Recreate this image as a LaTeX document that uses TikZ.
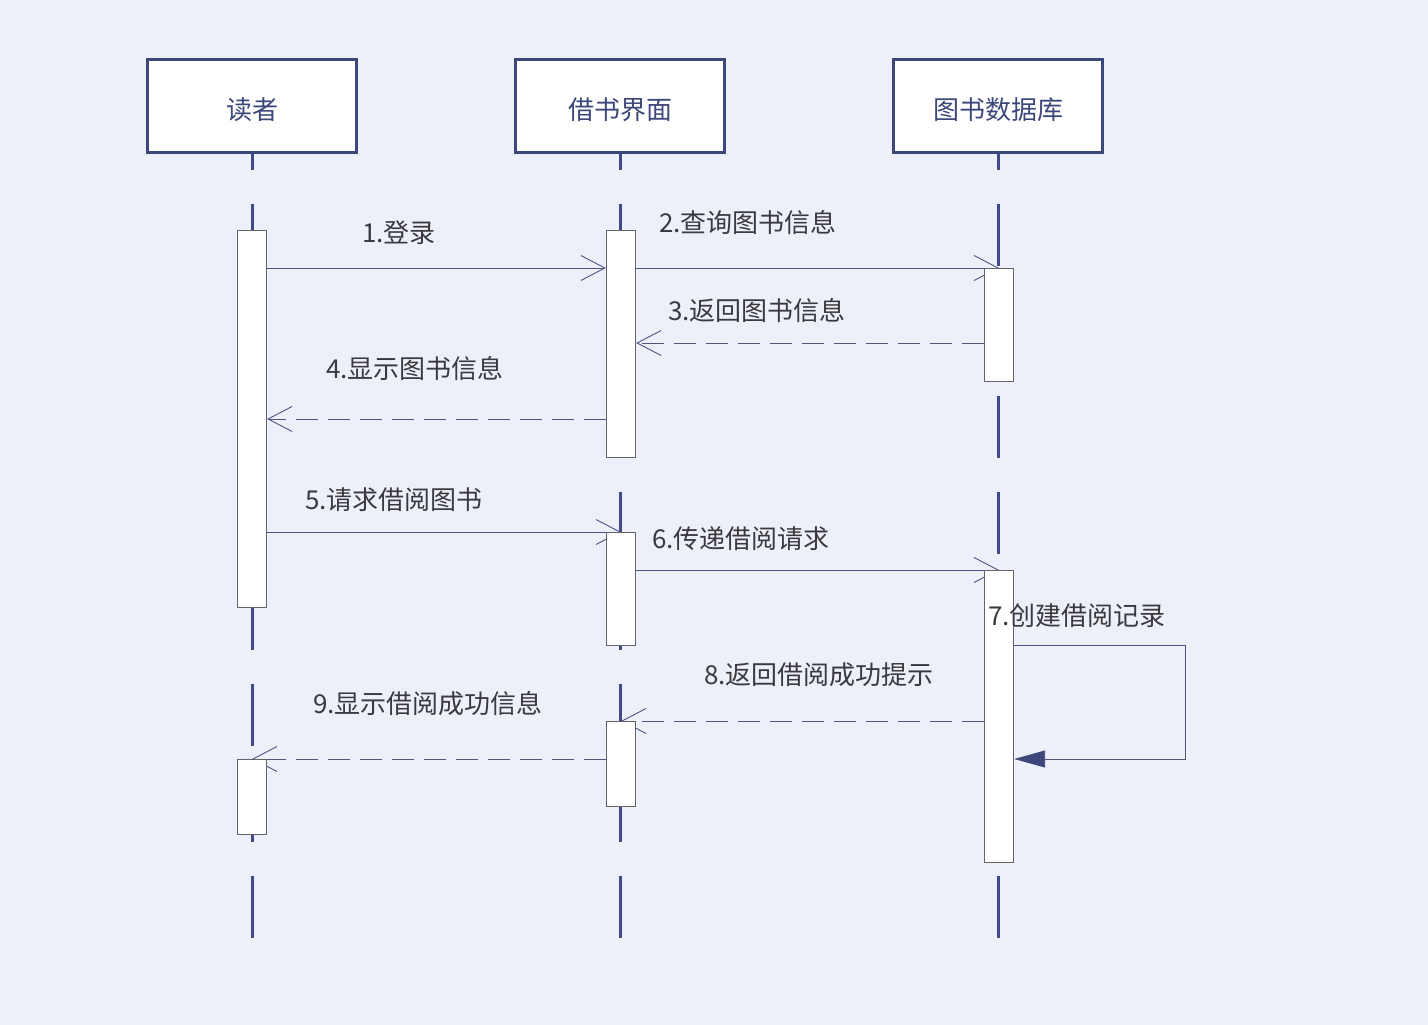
\documentclass[tikz,border=0pt]{standalone}
\usepackage{fontspec}
\setmainfont{Noto Sans CJK SC}
\usetikzlibrary{arrows.meta,backgrounds}
\definecolor{bg}{RGB}{238,240,249}
\definecolor{lifec}{RGB}{64,74,138}
\definecolor{hdrc}{RGB}{60,72,122}
\definecolor{msgc}{RGB}{78,84,128}
\definecolor{txtc}{RGB}{58,58,62}
\definecolor{actc}{RGB}{100,100,104}
\begin{document}
\begin{tikzpicture}[x=1pt,y=-1pt,
  header/.style={draw=hdrc,line width=3pt,fill=white,minimum width=209pt,minimum height=93pt,inner sep=0pt,text=hdrc,text height=26pt,text depth=0pt,font=\fontsize{26}{30}\selectfont},
  lifeline/.style={draw=lifec,line width=3pt,dash pattern=on 62pt off 34pt,dash phase=46pt},
  actbox/.style={draw=actc,fill=white,line width=1.3pt,minimum width=29pt,inner sep=0pt,anchor=north},
  syncmsg/.style={draw=msgc,line width=0.9pt,-{Straight Barb[length=24pt,width=25pt,line width=0.9pt]}},
  retmsg/.style={syncmsg,dash pattern=on 22pt off 10pt},
  selfmsg/.style={draw=msgc,line width=0.9pt,-{Triangle[length=31pt,width=17pt,fill=hdrc,color=hdrc]}},
  lbl/.style={anchor=west,inner sep=0pt,text=txtc,font=\fontsize{26}{30}\selectfont}]
\useasboundingbox (0,0) rectangle (1428,1025);

% header nodes
\node[header] (A) at (252,106) {读者};
\node[header] (B) at (620,106) {借书界面};
\node[header] (C) at (998,106) {图书数据库};

% lifeline ends
\coordinate (Aend) at (252,940);
\coordinate (Bend) at (620,940);
\coordinate (Cend) at (998,940);

\begin{scope}[on background layer]
\fill[bg] (0,0) rectangle (1428,1025);
\draw[lifeline] (A.south) -- (Aend);
\draw[lifeline] (B.south) -- (Bend);
\draw[lifeline] (C.south) -- (Cend);
\end{scope}

% activation boxes (positions)
\coordinate (a1p) at (252,230);
\coordinate (a2p) at (252,759);
\coordinate (b1p) at (621,230);
\coordinate (b2p) at (621,532);
\coordinate (b3p) at (621,721);
\coordinate (c1p) at (999,268);
\coordinate (c2p) at (999,570);

% phantom nodes to define geometry first
\node[actbox,draw=none,fill=none,minimum height=377pt] (a1) at (a1p) {};
\node[actbox,draw=none,fill=none,minimum height=75pt] (a2) at (a2p) {};
\node[actbox,draw=none,fill=none,minimum height=227pt] (b1) at (b1p) {};
\node[actbox,draw=none,fill=none,minimum height=113pt] (b2) at (b2p) {};
\node[actbox,draw=none,fill=none,minimum height=85pt] (b3) at (b3p) {};
\node[actbox,draw=none,fill=none,minimum height=113pt] (c1) at (c1p) {};
\node[actbox,draw=none,fill=none,minimum height=292pt] (c2) at (c2p) {};

% messages
\draw[syncmsg] (a1.east |- 0,268) -- (b1.west |- 0,268);
\draw[syncmsg] (b1.east |- 0,268) -- (c1.north);
\draw[retmsg] (c1.west |- 0,343) -- (b1.east |- 0,343);
\draw[retmsg] (b1.west |- 0,419) -- (a1.east |- 0,419);
\draw[syncmsg] (a1.east |- 0,532) -- (b2.north);
\draw[syncmsg] (b2.east |- 0,570) -- (c2.north);
\draw[retmsg] (c2.west |- 0,721) -- (b3.north);
\draw[retmsg] (b3.west |- 0,759) -- (a2.north);

% visible activation boxes
\node[actbox,minimum height=377pt] (A1) at (a1p) {};
\node[actbox,minimum height=75pt] (A2) at (a2p) {};
\node[actbox,minimum height=227pt] (B1) at (b1p) {};
\node[actbox,minimum height=113pt] (B2) at (b2p) {};
\node[actbox,minimum height=85pt] (B3) at (b3p) {};
\node[actbox,minimum height=113pt] (C1) at (c1p) {};
\node[actbox,minimum height=292pt] (C2) at (c2p) {};

% self message
\coordinate (s1) at (1185,645);
\coordinate (s2) at (1185,759);
\draw[selfmsg] (C2.east |- s1) -- (s1) -- (s2) -- (C2.east |- s2);

% labels
\node[lbl] (l1) at (362,233) {1.登录};
\node[lbl] (l2) at (659,223) {2.查询图书信息};
\node[lbl] (l3) at (668,311) {3.返回图书信息};
\node[lbl] (l4) at (326,369) {4.显示图书信息};
\node[lbl] (l5) at (305,500) {5.请求借阅图书};
\node[lbl] (l6) at (652,539) {6.传递借阅请求};
\node[lbl] (l7) at (988,616) {7.创建借阅记录};
\node[lbl] (l8) at (704,675) {8.返回借阅成功提示};
\node[lbl] (l9) at (313,704) {9.显示借阅成功信息};
\end{tikzpicture}
\end{document}
